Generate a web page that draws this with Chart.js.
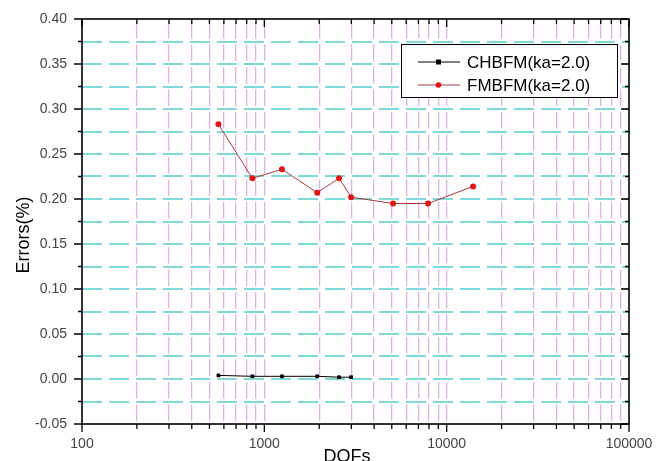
<!DOCTYPE html>
<html>
<head>
<meta charset="utf-8">
<script src="https://cdn.jsdelivr.net/npm/chart.js@4/dist/chart.umd.min.js"></script>
<style>
  body { margin: 0; background: #fff; }
  canvas { display: block; }
</style>
</head>
<body>
<canvas id="graph" width="656" height="461"></canvas>
<script>
var dofs = [560, 860, 1250, 1950, 2570, 2990, 5080, 7900, 13960];
var chbfmErrors = [0.004, 0.003, 0.003, 0.003, 0.002, 0.002];
var fmbfmErrors = [0.283, 0.223, 0.233, 0.207, 0.223, 0.202, 0.195, 0.195, 0.214];

var xMajorTicks = [100, 1000, 10000, 100000];
var xMinorTicks = [200, 300, 400, 500, 600, 700, 800, 900,
                   2000, 3000, 4000, 5000, 6000, 7000, 8000, 9000,
                   20000, 30000, 40000, 50000, 60000, 70000, 80000, 90000];
var yMajorTicks = [-0.05, 0.00, 0.05, 0.10, 0.15, 0.20, 0.25, 0.30, 0.35, 0.40];
var yMinorTicks = [-0.025, 0.025, 0.075, 0.125, 0.175, 0.225, 0.275, 0.325, 0.375];

var xTicks = xMajorTicks.concat(xMinorTicks).sort(function (a, b) { return a - b; });
var yTicks = yMajorTicks.concat(yMinorTicks).sort(function (a, b) { return a - b; });

function isMajorY(v) {
  return yMajorTicks.some(function (m) { return Math.abs(m - v) < 1e-6; });
}
function toPoints(values) {
  return values.map(function (v, i) { return {x: dofs[i], y: v}; });
}

var FONT = "'Liberation Sans', Arial, sans-serif";

var framePlugin = {
  id: 'frame',
  afterDraw: function (chart) {
    var ctx = chart.ctx, a = chart.chartArea;
    var xs = chart.scales.x, ys = chart.scales.y;
    ctx.save();
    ctx.strokeStyle = '#000';
    ctx.lineWidth = 1.6;
    ctx.strokeRect(a.left, a.top, a.right - a.left, a.bottom - a.top);

    // tick marks: out on left/bottom, in on top/right
    ctx.lineWidth = 1.3;
    ctx.beginPath();
    xs.ticks.forEach(function (t) {
      var px = xs.getPixelForValue(t.value);
      var len = xMajorTicks.indexOf(t.value) >= 0 ? 8 : 5;
      ctx.moveTo(px, a.bottom); ctx.lineTo(px, a.bottom + len);
      ctx.moveTo(px, a.top); ctx.lineTo(px, a.top + len);
    });
    ys.ticks.forEach(function (t) {
      var py = ys.getPixelForValue(t.value);
      var len = isMajorY(t.value) ? 8 : 4;
      ctx.moveTo(a.left, py); ctx.lineTo(a.left - len, py);
      ctx.moveTo(a.right, py); ctx.lineTo(a.right - len, py);
    });
    ctx.stroke();

    // legend box
    ctx.fillStyle = '#fff';
    ctx.fillRect(401, 44, 216, 53);
    ctx.lineWidth = 1;
    ctx.strokeStyle = '#000';
    ctx.strokeRect(401.5, 44.5, 216, 53);
    chart.data.datasets.forEach(function (ds, i) {
      var ly = 62 + i * 23;
      ctx.strokeStyle = ds.borderColor;
      ctx.lineWidth = 1;
      ctx.beginPath();
      ctx.moveTo(418, ly); ctx.lineTo(460, ly);
      ctx.stroke();
      ctx.fillStyle = ds.pointBackgroundColor;
      if (ds.pointStyle === 'rect') {
        ctx.fillRect(436, ly - 2.5, 5, 5);
      } else {
        ctx.beginPath();
        ctx.arc(438.5, ly, 2.8, 0, Math.PI * 2);
        ctx.fill();
      }
      ctx.fillStyle = '#000';
      ctx.font = '17px ' + FONT;
      ctx.textAlign = 'left';
      ctx.textBaseline = 'middle';
      ctx.fillText(ds.label, 467, ly + 1);
    });

    // axis titles
    ctx.fillStyle = '#000';
    ctx.font = '18px ' + FONT;
    ctx.textAlign = 'center';
    ctx.textBaseline = 'alphabetic';
    ctx.fillText('DOFs', 347, 462);
    ctx.translate(29, 235);
    ctx.rotate(-Math.PI / 2);
    ctx.fillText('Errors(%)', 0, 0);
    ctx.restore();
  }
};

var canvas = document.getElementById('graph').getContext('2d');
var chart = new Chart(canvas, {
  type: 'line',
  data: {
    datasets: [
      {
        label: 'CHBFM(ka=2.0)',
        data: toPoints(chbfmErrors),
        borderColor: '#000',
        borderWidth: 1,
        pointStyle: 'rect',
        pointRadius: 2.6,
        pointBackgroundColor: '#000',
        pointBorderWidth: 0
      },
      {
        label: 'FMBFM(ka=2.0)',
        data: toPoints(fmbfmErrors),
        borderColor: '#a83a3a',
        borderWidth: 1,
        pointStyle: 'circle',
        pointRadius: 3,
        pointBackgroundColor: '#e01515',
        pointBorderWidth: 0
      }
    ]
  },
  options: {
    responsive: false,
    animation: false,
    devicePixelRatio: 1,
    layout: {padding: {top: 19, right: 27, left: 0, bottom: 0}},
    plugins: {legend: {display: false}, tooltip: {enabled: false}},
    scales: {
      x: {
        type: 'logarithmic',
        min: 100,
        max: 100000,
        afterBuildTicks: function (s) { s.ticks = xTicks.map(function (v) { return {value: v}; }); },
        afterFit: function (s) { s.height = 37; s.paddingLeft = 0; s.paddingRight = 0; },
        border: {display: false, dash: [16.5, 6], dashOffset: 19.5},
        grid: {
          drawTicks: false,
          color: function (c) {
            var v = c.tick ? c.tick.value : 0;
            return (v === 100 || v === 100000) ? 'rgba(0,0,0,0)' : '#e0aee8';
          },
          lineWidth: 1.3
        },
        ticks: {
          autoSkip: false,
          maxRotation: 0,
          padding: 12,
          color: '#444',
          font: {family: FONT, size: 14},
          callback: function (v) { return xMajorTicks.indexOf(v) >= 0 ? String(v) : ''; }
        }
      },
      y: {
        type: 'linear',
        min: -0.05,
        max: 0.40,
        afterBuildTicks: function (s) { s.ticks = yTicks.map(function (v) { return {value: v}; }); },
        afterFit: function (s) { s.width = 82; s.paddingTop = 0; s.paddingBottom = 0; },
        border: {display: false, dash: [20, 7]},
        grid: {
          drawTicks: false,
          color: function (c) {
            var v = c.tick ? c.tick.value : 0;
            return (Math.abs(v + 0.05) < 1e-6 || Math.abs(v - 0.40) < 1e-6) ? 'rgba(0,0,0,0)' : '#7fd9d9';
          },
          lineWidth: 2
        },
        ticks: {
          autoSkip: false,
          padding: 15,
          color: '#444',
          font: {family: FONT, size: 14},
          callback: function (v) { return isMajorY(v) ? v.toFixed(2) : ''; }
        }
      }
    }
  },
  plugins: [framePlugin]
});
</script>
</body>
</html>
